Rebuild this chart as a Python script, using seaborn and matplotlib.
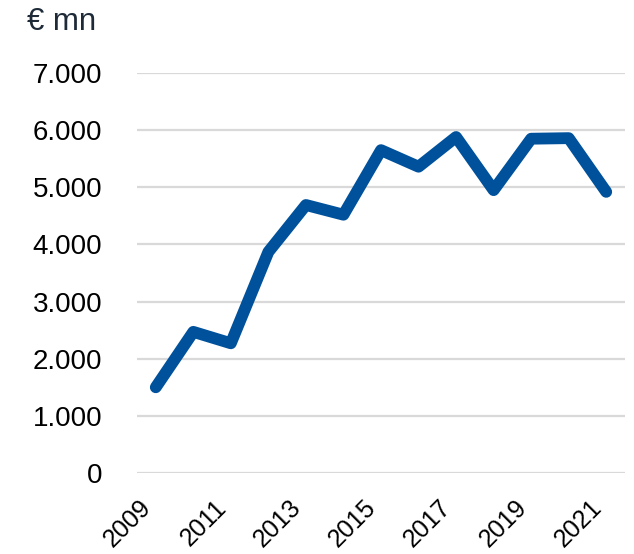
import matplotlib
matplotlib.use("Agg")
import matplotlib.pyplot as plt
import seaborn as sns
import pandas as pd

years = [2009, 2010, 2011, 2012, 2013, 2014, 2015, 2016, 2017, 2018, 2019, 2020, 2021]
values = [1500, 2470, 2270, 3870, 4690, 4520, 5650, 5360, 5880, 4950, 5850, 5860, 4920]
y_ticks = [0, 1000, 2000, 3000, 4000, 5000, 6000, 7000]
y_tick_labels = ["0", "1.000", "2.000", "3.000", "4.000", "5.000", "6.000", "7.000"]
x_ticks = [2009, 2011, 2013, 2015, 2017, 2019, 2021]
unit_label = "€ mn"

df = pd.DataFrame({"year": years, "value": values})

sns.set_theme(style="white")
plt.rcParams["font.family"] = ["Liberation Sans", "DejaVu Sans"]

fig = plt.figure(figsize=(6.34, 5.54), dpi=100)
ax = fig.add_axes([137 / 634, 1 - 473 / 554, (625 - 137) / 634, (473 - 73) / 554])

sns.lineplot(data=df, x="year", y="value", ax=ax, color="#00519C", linewidth=8.5,
             solid_capstyle="round", solid_joinstyle="round", zorder=3)

ax.set_xlim(2008.5, 2021.5)
ax.set_ylim(0, 7000)
ax.set_yticks(y_ticks)
ax.set_yticklabels(y_tick_labels)
ax.set_xticks(x_ticks)
ax.set_xticklabels([str(x) for x in x_ticks], rotation=45, ha="right", va="top")
ax.grid(axis="y", color="#d9d9d9", linewidth=1.6, zorder=0)
ax.grid(axis="x", visible=False)
for s in ax.spines.values():
    s.set_visible(False)
ax.tick_params(axis="y", length=0, pad=25, labelsize=20, labelcolor="#000000")
ax.tick_params(axis="x", length=0, pad=16, labelsize=18, labelcolor="#000000")
ax.set_xlabel("")
ax.set_ylabel("")

fig.text(27 / 634, 1 - 22 / 554, unit_label, fontsize=22.5, color="#1e2a38",
         ha="left", va="center")

fig.savefig("out.png", dpi=100)
